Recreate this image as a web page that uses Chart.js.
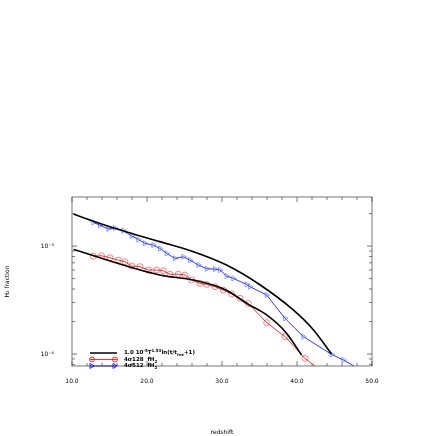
<!DOCTYPE html><html><head><script src="https://cdn.jsdelivr.net/npm/chart.js@4"></script>
<style>body{margin:0;background:#fff}</style></head><body><canvas id="c" width="436" height="436"></canvas>
<script>
const redZ=[12.84,13.96,15.07,16.18,17.07,17.96,19.07,20.18,21.29,22.18,23.07,24.18,25.07,25.96,27.07,27.96,29.07,30.18,31.29,32.4,33.51,35.96,38.4,41.07,45.96];
const redF=[8.07e-4,8.13e-4,7.79e-4,7.41e-4,7.16e-4,6.53e-4,6.44e-4,6.0e-4,6.0e-4,5.91e-4,5.47e-4,5.49e-4,5.39e-4,4.84e-4,4.51e-4,4.41e-4,4.2e-4,3.91e-4,3.6e-4,3.28e-4,2.94e-4,1.95e-4,1.45e-4,9.1e-5,4.99e-5];
const blueZ=[12.84,13.73,14.84,15.73,16.84,17.96,18.84,19.73,20.84,21.73,22.62,23.73,24.84,25.73,26.84,27.96,29.07,29.73,30.62,31.51,33.29,33.73,35.96,38.4,40.84,44.62,46.18,50];
const blueF=[1.66e-3,1.56e-3,1.44e-3,1.47e-3,1.39e-3,1.24e-3,1.15e-3,1.06e-3,1.02e-3,9.5e-4,8.55e-4,7.69e-4,7.96e-4,7.41e-4,6.67e-4,6.17e-4,6.12e-4,6.0e-4,5.27e-4,5.01e-4,4.41e-4,4.2e-4,3.52e-4,2.14e-4,1.45e-4,9.9e-5,8.8e-5,6.2e-5];
const fitHiZ=[10.2,12.84,17.3,21.7,26.2,30.6,35.1,39.5,42.2,44.6];
const fitHiF=[1.98e-3,1.7e-3,1.35e-3,1.1e-3,8.86e-4,6.67e-4,4.36e-4,2.56e-4,1.67e-4,1.0e-4];
const fitLoZ=[10.2,21.7,26.2,30.6,33.3,35.96,38.6,40.6];
const fitLoF=[9.3e-4,5.4e-4,4.84e-4,3.9e-4,2.94e-4,2.3e-4,1.56e-4,9.8e-5];
const xTicks=[10,20,30,40,50];
const legendLabels=['4σ128  fH','4σ512  fH'];
const pts=(a,b)=>a.map((v,i)=>({x:v,y:b[i]}));
const F='"DejaVu Sans"';
const ticksPlugin={id:'tk',afterDraw(ch){const c=ch.ctx,a=ch.chartArea,x=ch.scales.x,y=ch.scales.y;c.save();c.strokeStyle='#555';c.lineWidth=0.8;
c.strokeRect(a.left,a.top,a.right-a.left,a.bottom-a.top);c.beginPath();
for(let v=10;v<=50;v+=2){const p=x.getPixelForValue(v),L=v%10?3:5;c.moveTo(p,a.bottom);c.lineTo(p,a.bottom-L);c.moveTo(p,a.top);c.lineTo(p,a.top+L);}
for(let e=-5;e<=-3;e++)for(let m=1;m<10;m++){const v=m*Math.pow(10,e);if(v<y.min||v>y.max)continue;const p=y.getPixelForValue(v),L=m==1?5:3;c.moveTo(a.left,p);c.lineTo(a.left+L,p);c.moveTo(a.right,p);c.lineTo(a.right-L,p);}
c.stroke();
const lx=a.left+18,ly=a.bottom-13;c.font='bold 5.5px '+F;c.fillStyle='#000';c.textBaseline='middle';
c.strokeStyle='#000';c.lineWidth=1.5;c.beginPath();c.moveTo(lx,ly);c.lineTo(lx+27,ly);c.stroke();
let t='1.0 10',px=lx+34;c.fillText(t,px,ly);px+=c.measureText(t).width;c.font='bold 4px '+F;c.fillText('-5',px,ly-2.5);px+=c.measureText('-5').width;c.font='bold 5.5px '+F;c.fillText('T',px,ly);px+=c.measureText('T').width;c.font='bold 4px '+F;c.fillText('1.53',px,ly-2.5);px+=c.measureText('1.53').width;c.font='bold 5.5px '+F;c.fillText('ln(t/t',px,ly);px+=c.measureText('ln(t/t').width;c.font='bold 4px '+F;c.fillText('rec',px,ly+2);px+=c.measureText('rec').width;c.font='bold 5.5px '+F;c.fillText('+1)',px,ly);
const cols=['#e00','#00e'];legendLabels.forEach((s,i)=>{const yy=ly+6.5*(i+1);c.strokeStyle=cols[i];c.lineWidth=0.8;c.beginPath();c.moveTo(lx,yy);c.lineTo(lx+27,yy);c.stroke();
c.beginPath();if(i==0){c.moveTo(lx+4.5,yy);c.arc(lx+2,yy,2.5,0,7);c.moveTo(lx+27.5,yy);c.arc(lx+25,yy,2.5,0,7);}else{[lx,lx+23].forEach(q=>{c.moveTo(q,yy-2.5);c.lineTo(q+4,yy);c.lineTo(q,yy+2.5);c.closePath();});}c.stroke();
c.fillStyle='#000';c.font='bold 5.5px '+F;c.fillText(s,lx+34,yy);const w=c.measureText(s).width;c.font='bold 4px '+F;c.fillText('2',lx+34+w,yy+2);});
c.restore();}};
new Chart(document.getElementById('c'),{type:'line',data:{datasets:[
{data:pts(fitHiZ,fitHiF),borderColor:'#000',borderWidth:1.6,pointRadius:0,cubicInterpolationMode:'monotone'},
{data:pts(fitLoZ,fitLoF),borderColor:'#000',borderWidth:1.6,pointRadius:0,cubicInterpolationMode:'monotone'},
{data:pts(redZ,redF),borderColor:'#e00',borderWidth:0.8,pointStyle:'circle',pointRadius:3,pointBorderColor:'rgba(240,40,40,0.8)',pointBackgroundColor:'transparent',pointBorderWidth:0.7},
{data:pts(blueZ,blueF),borderColor:'#00e',borderWidth:0.8,pointStyle:'triangle',pointRotation:90,pointRadius:blueZ.map((v,i)=>i==blueZ.length-1?0:3),pointBorderColor:'rgba(60,90,255,0.8)',pointBackgroundColor:'transparent',pointBorderWidth:0.7}]},
options:{responsive:false,animation:false,devicePixelRatio:1,layout:{padding:{left:0,top:197,right:64,bottom:0}},plugins:{legend:{display:false},tooltip:{enabled:false}},
scales:{x:{type:'linear',min:10,max:50,afterBuildTicks(s){s.ticks=xTicks.map(v=>({value:v}));},afterFit(s){s.height=70;},grid:{display:false},border:{display:false},ticks:{callback:v=>v.toFixed(1),font:{size:6,family:F},color:'#000',padding:4,maxRotation:0},
title:{display:true,text:'redshift',font:{size:6,family:F},color:'#000',padding:0}},
y:{type:'logarithmic',min:7.74e-5,max:2.85e-3,afterBuildTicks(s){s.ticks=[{value:1e-4},{value:1e-3}];},afterFit(s){s.width=72;},grid:{display:false},border:{display:false},ticks:{callback:v=>v==1e-3?'10⁻³':'10⁻⁴',font:{size:6,family:F},color:'#000',padding:10},
title:{display:true,text:'H₂ fraction',font:{size:6,family:F},color:'#000',padding:{bottom:4}}}}},plugins:[ticksPlugin]});
</script></body></html>
